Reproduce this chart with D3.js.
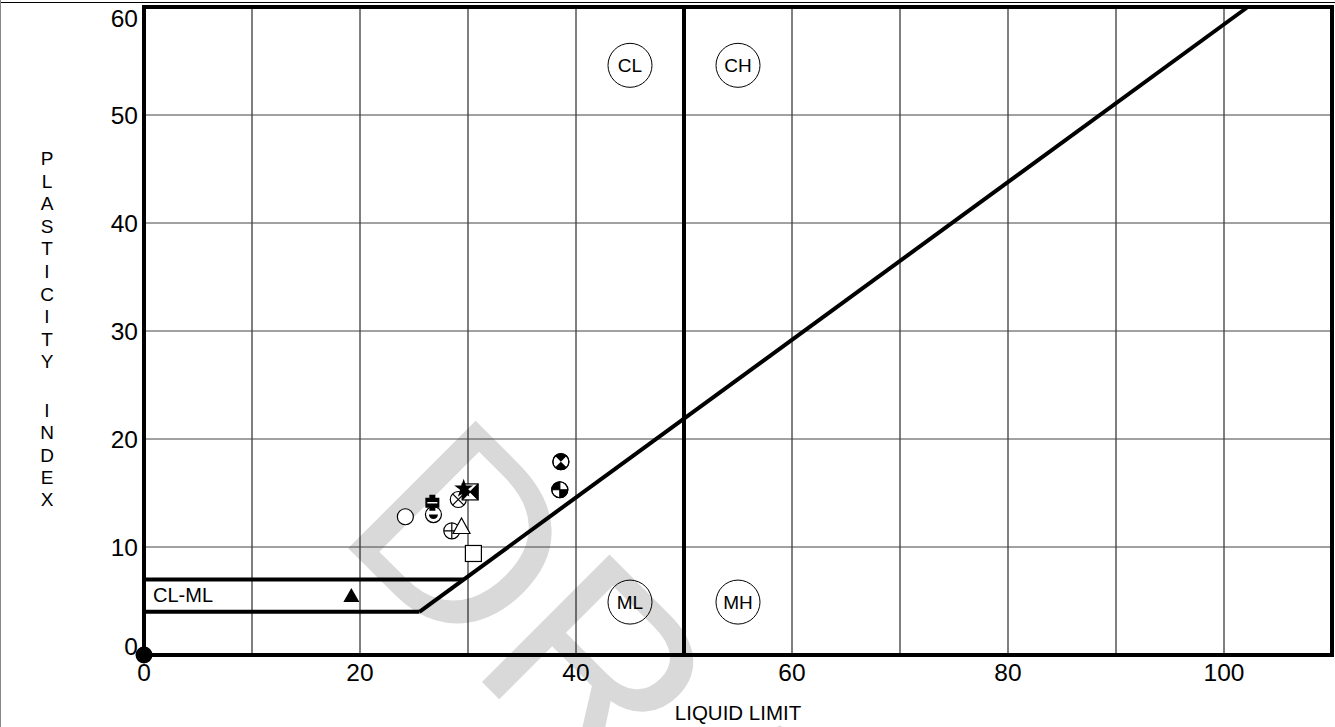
<!DOCTYPE html>
<html>
<head>
<meta charset="utf-8">
<script src="https://cdn.jsdelivr.net/npm/d3@7"></script>
<style>
  html, body { margin: 0; padding: 0; background: #fff; overflow: hidden; }
  svg { display: block; font-family: "Liberation Sans", Arial, sans-serif; }
</style>
</head>
<body>
<svg id="chart" width="1335" height="727"></svg>
<script>
// ---- data ----
const xTicks = [0, 20, 40, 60, 80, 100];
const yTicks = [0, 10, 20, 30, 40, 50, 60];
const xGrid = [10, 20, 30, 40, 50, 60, 70, 80, 90, 100];
const yGrid = [10, 20, 30, 40, 50];

const sampleLL  = [24.2, 26.8, 26.7, 29.1, 30.2, 29.6, 28.5, 29.4, 30.5, 38.6, 38.5, 19.2, 0];
const samplePI  = [12.8, 13.0, 14.1, 14.4, 15.1, 15.4, 11.5, 11.9, 9.4, 17.9, 15.3, 5.5, 0];
const sampleSym = ["circle", "circleHalfDot", "boldPlus", "circleX", "squareBowtie", "star",
                   "circlePlus", "triangle", "square", "circleHourglass", "circleQuadrants",
                   "triangleFilled", "dotLarge"];

const zoneNames = ["CL", "CH", "ML", "MH"];
const zoneLL = [45, 55, 45, 55];
const zonePI = [54.6, 54.6, 4.9, 4.9];

const aLineLL = [25.5, 102.2];
const aLinePI = [4, 60];
const clmlUpperLL = [0, 29.6];
const clmlUpperPI = [7, 7];
const clmlLowerLL = [0, 25.5];
const clmlLowerPI = [4, 4];
const llDivide = 50;

const yTitle1 = "PLASTICITY";
const yTitle2 = "INDEX";
const watermark = "DRAFT";

// ---- setup ----
const svg = d3.select("#chart");
const x = d3.scaleLinear().domain([0, 110]).range([144, 1332]);
const y = d3.scaleLinear().domain([0, 60]).range([655, 7]);

// page border
svg.append("line").attr("x1", 0).attr("x2", 1335).attr("y1", 2.5).attr("y2", 2.5)
  .attr("stroke", "#000").attr("stroke-width", 1);
svg.append("line").attr("x1", 0.5).attr("x2", 0.5).attr("y1", 0).attr("y2", 727)
  .attr("stroke", "#888").attr("stroke-width", 1);

// watermark (clipped to the page, as in the reference)
svg.append("clipPath").attr("id", "pageClip").append("rect")
  .attr("x", 0).attr("y", 0).attr("width", 1335).attr("height", 727);
svg.append("g").attr("clip-path", "url(#pageClip)")
  .append("text").text(watermark)
  .attr("transform", "translate(333,533) rotate(45)")
  .attr("font-size", 262).attr("fill", "#d9d9d9");

// grid
svg.append("g").selectAll("line").data(xGrid).join("line")
  .attr("x1", d => x(d)).attr("x2", d => x(d)).attr("y1", y(0)).attr("y2", y(60))
  .attr("stroke", "#000").attr("stroke-width", 1);
svg.append("g").selectAll("line").data(yGrid).join("line")
  .attr("x1", x(0)).attr("x2", x(110)).attr("y1", d => y(d)).attr("y2", d => y(d))
  .attr("stroke", "#444").attr("stroke-width", 1);

// frame
svg.append("rect").attr("x", x(0)).attr("y", y(60)).attr("width", x(110) - x(0)).attr("height", y(0) - y(60))
  .attr("fill", "none").attr("stroke", "#000").attr("stroke-width", 4);

// LL=50 divider
svg.append("line").attr("x1", x(llDivide)).attr("x2", x(llDivide)).attr("y1", y(0)).attr("y2", y(60))
  .attr("stroke", "#000").attr("stroke-width", 4);

// A-line & CL-ML
const line = d3.line().x(d => x(d[0])).y(d => y(d[1]));
svg.append("path").datum(d3.zip(aLineLL, aLinePI)).attr("d", line)
  .attr("fill", "none").attr("stroke", "#000").attr("stroke-width", 4);
svg.append("path").datum(d3.zip(clmlUpperLL, clmlUpperPI)).attr("d", line)
  .attr("fill", "none").attr("stroke", "#000").attr("stroke-width", 4);
svg.append("path").datum(d3.zip(clmlLowerLL, clmlLowerPI)).attr("d", line)
  .attr("fill", "none").attr("stroke", "#000").attr("stroke-width", 4);

svg.append("text").text("CL-ML").attr("x", x(0) + 9).attr("y", y(5.6) + 7)
  .attr("font-size", 20).attr("fill", "#000");

// zone labels
const zones = svg.append("g").selectAll("g").data(zoneNames).join("g")
  .attr("transform", (d, i) => `translate(${x(zoneLL[i])},${y(zonePI[i])})`);
zones.append("circle").attr("r", 22).attr("fill", "none").attr("stroke", "#000").attr("stroke-width", 1);
zones.append("text").text(d => d).attr("text-anchor", "middle").attr("dy", "0.36em")
  .attr("font-size", 19).attr("fill", "#000");

// tick labels
svg.append("g").selectAll("text").data(xTicks).join("text")
  .text(d => d).attr("x", d => x(d)).attr("y", y(0) + 26)
  .attr("text-anchor", "middle").attr("font-size", 24.5);
svg.append("g").selectAll("text").data(yTicks).join("text")
  .text(d => d).attr("x", x(0) - 6)
  .attr("y", d => Math.min(646, Math.max(18, y(d))))
  .attr("dy", "0.36em").attr("text-anchor", "end").attr("font-size", 24.5);

// axis titles
svg.append("text").text("LIQUID LIMIT").attr("x", 738).attr("y", 720)
  .attr("text-anchor", "middle").attr("font-size", 20.5);
svg.append("g").selectAll("text").data(yTitle1.split("")).join("text")
  .text(d => d).attr("x", 47).attr("y", (d, i) => 165 + i * 22.6)
  .attr("text-anchor", "middle").attr("font-size", 19);
svg.append("g").selectAll("text").data(yTitle2.split("")).join("text")
  .text(d => d).attr("x", 47).attr("y", (d, i) => 417 + i * 22.3)
  .attr("text-anchor", "middle").attr("font-size", 19);

// symbols
const R = 8;
const c45 = R * Math.SQRT1_2;
function drawSymbol(g, type) {
  const S = { fill: "none", stroke: "#000", "stroke-width": 1.2 };
  const add = (tag, attrs) => { const e = g.append(tag); for (const k in attrs) e.attr(k, attrs[k]); return e; };
  switch (type) {
    case "circle":
      add("circle", { r: R, ...S, fill: "#fff" }); break;
    case "circleHalfDot":
      add("circle", { r: R, ...S, fill: "#fff" });
      add("path", { d: `M-4.5,0 A4.5,4.5 0 0 0 4.5,0 Z`, fill: "#000" }); break;
    case "boldPlus":
      add("path", { d: "M-3,-8 H3 V-5 H7 V5 H3 V8 H-3 V5 H-7 V-5 H-3 Z", fill: "#000" });
      add("line", { x1: -5, x2: 5, y1: 0, y2: 0, stroke: "#fff", "stroke-width": 1.5 }); break;
    case "circleX":
      add("circle", { r: R, ...S, fill: "#fff" });
      add("path", { d: `M${-c45},${-c45}L${c45},${c45}M${-c45},${c45}L${c45},${-c45}`, ...S }); break;
    case "circlePlus":
      add("circle", { r: R, ...S, fill: "#fff" });
      add("path", { d: `M${-R},0H${R}M0,${-R}V${R}`, ...S }); break;
    case "circleHourglass":
      add("circle", { r: R, ...S, fill: "#fff" });
      add("path", { d: `M0,0L${-c45},${-c45}A${R},${R} 0 0 1 ${c45},${-c45}Z M0,0L${c45},${c45}A${R},${R} 0 0 1 ${-c45},${c45}Z`, fill: "#000" });
      add("circle", { r: R, ...S }); break;
    case "circleQuadrants":
      add("circle", { r: R, ...S, fill: "#fff" });
      add("path", { d: `M0,0H${-R}A${R},${R} 0 0 1 0,${-R}Z M0,0H${R}A${R},${R} 0 0 1 0,${R}Z`, fill: "#000" });
      add("path", { d: `M${-R},0H${R}M0,${-R}V${R}`, ...S });
      add("circle", { r: R, ...S }); break;
    case "square":
      add("rect", { x: -R, y: -R, width: 2 * R, height: 2 * R, ...S, fill: "#fff" }); break;
    case "squareBowtie":
      add("rect", { x: -R, y: -R, width: 2 * R, height: 2 * R, ...S, fill: "#fff" });
      add("path", { d: `M${-R},${-R}L0,0L${-R},${R}Z M${R},${-R}L0,0L${R},${R}Z`, fill: "#000" });
      add("path", { d: `M${-R},${-R}L${R},${R}M${-R},${R}L${R},${-R}`, ...S }); break;
    case "star":
      add("path", { d: d3.symbol(d3.symbolStar, 110)(), fill: "#000" }); break;
    case "triangle":
      add("path", { d: `M0,-8.5L8.5,7L-8.5,7Z`, ...S, fill: "#fff" }); break;
    case "triangleFilled":
      add("path", { d: `M0,-7.5L8,6.5L-8,6.5Z`, fill: "#000" }); break;
    case "dotLarge":
      add("circle", { r: 8.5, fill: "#000" }); break;
  }
}
const pts = svg.append("g").selectAll("g").data(sampleSym).join("g")
  .attr("transform", (d, i) => `translate(${x(sampleLL[i])},${y(samplePI[i])})`);
pts.each(function (d) { drawSymbol(d3.select(this), d); });
</script>
</body>
</html>
